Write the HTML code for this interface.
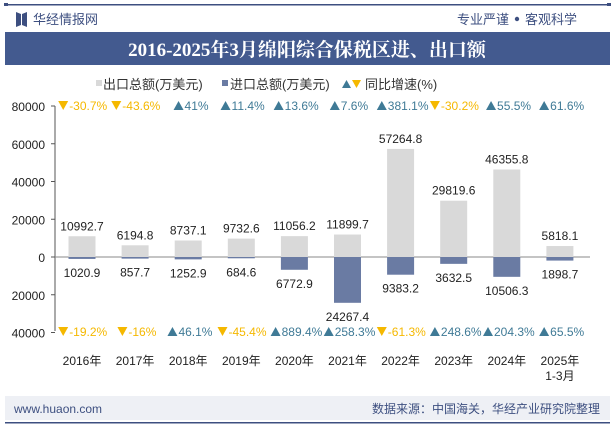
<!DOCTYPE html>
<html><head><meta charset="utf-8"><style>
body{margin:0;width:615px;height:427px;overflow:hidden;background:#fff;font-family:"Liberation Sans","Noto Sans CJK SC",sans-serif;}
svg text{font-family:"Liberation Sans","Noto Sans CJK SC",sans-serif;}
</style></head><body>
<svg id="c" width="615" height="427">
<rect x="5" y="4" width="605" height="1.5" fill="#3d4f80"/>
<rect x="4" y="3" width="4" height="3" fill="#3d4f80"/><rect x="607" y="3" width="4" height="3" fill="#3d4f80"/>
<g><path d="M16 12 L21 14 L21 25 L16 27Z M27 12 L22 14 L22 25 L27 27Z" fill="#3d4f80"/>
<text x="33" y="24" font-size="13" fill="#3d4f80">华经情报网</text></g>
<text x="509" y="24" font-size="13" fill="#3d4f80" text-anchor="end">专业严谨</text>
<circle cx="517" cy="19" r="2.2" fill="#3d4f80"/>
<text x="525" y="24" font-size="13" fill="#3d4f80">客观科学</text>
<rect x="5" y="32" width="605" height="33" fill="#435a8f"/>
<text x="307" y="56" font-size="19" font-weight="bold" fill="#fff" text-anchor="middle" style="font-family:'Liberation Serif','Noto Serif CJK SC',serif">2016-2025年3月绵阳综合保税区进、出口额</text>
<g>
<rect x="96" y="80" width="6" height="6" fill="#d9d9d9"/><text x="103" y="89" font-size="13" fill="#333">出口总额(万美元)</text>
<rect x="222" y="80" width="6" height="6" fill="#6a7ba3"/><text x="230" y="89" font-size="13" fill="#333">进口总额(万美元)</text>
<path d="M342 88 L346.5 80 L351 88Z" fill="#3f7a96"/><path d="M352 80 L361 80 L356.5 88Z" fill="#f5b800"/>
<text x="365" y="89" font-size="13" fill="#333">同比增速(%)</text></g>
<line x1="55" y1="106" x2="55" y2="331" stroke="#555"/>
<rect x="5" y="396" width="605" height="24" fill="#eef0f5"/>
<text x="14" y="413" font-size="12" fill="#3d4f80">www.huaon.com</text>
<text x="600" y="413" font-size="12" fill="#3d4f80" text-anchor="end">数据来源：中国海关，华经产业研究院整理</text>
<rect x="5" y="422" width="605" height="1.5" fill="#3d4f80"/>
<g id="g"></g>
</svg>
<script>
const categories=["2016年","2017年","2018年","2019年","2020年","2021年","2022年","2023年","2024年","2025年"];
const exportVals=[10992.7,6194.8,8737.1,9732.6,11056.2,11899.7,57264.8,29819.6,46355.8,5818.1];
const importVals=[1020.9,857.7,1252.9,684.6,6772.9,24267.4,9383.2,3632.5,10506.3,1898.7];
const exportGrowth=[-30.7,-43.6,41,11.4,13.6,7.6,381.1,-30.2,55.5,61.6];
const importGrowth=[-19.2,-16,46.1,-45.4,889.4,258.3,-61.3,248.6,204.3,65.5];
const yTicks=[80000,60000,40000,20000,0,20000,40000];
const yTickVals=[80000,60000,40000,20000,0,-20000,-40000];
const ns="http://www.w3.org/2000/svg",g=document.getElementById('g');
const y0=257,k=(257-106)/80000;
const yS=v=>y0-v*k;
const xS=i=>82+i*53.1;
function el(t,a,txt){const e=document.createElementNS(ns,t);for(const n in a)e.setAttribute(n,a[n]);if(txt!=null)e.textContent=txt;g.appendChild(e);return e;}
const ax=el('line',{x1:55,y1:y0,x2:590,y2:y0,stroke:'#888'});


yTickVals.forEach((v,i)=>{const t=el('text',{x:45,y:yS(v)+5,'font-size':12,fill:'#222','text-anchor':'end'},yTicks[i]);


el('line',{x1:51,y1:yS(v),x2:55,y2:yS(v),stroke:'#555'});});
categories.forEach((c,i)=>{const x=xS(i),w=27;
const b=el('rect',{x:x-w/2,y:yS(exportVals[i]),width:w,height:y0-yS(exportVals[i]),fill:'#d9d9d9'});


const b2=el('rect',{x:x-w/2,y:y0,width:w,height:yS(-importVals[i])-y0,fill:'#6a7ba3'});


const l1=el('text',{x:x,y:yS(exportVals[i])-6,'font-size':12,fill:'#222','text-anchor':'middle'},exportVals[i]);


const l2=el('text',{x:x,y:yS(-importVals[i])+18,'font-size':12,fill:'#222','text-anchor':'middle'},importVals[i]);


[[exportGrowth[i],110],[importGrowth[i],336]].forEach(([v,yy])=>{const up=v>=0;const col=up?'#3f7a96':'#f5b800';
const s=(v+'%');const tw=s.length*6.1+11;const sx=x-tw/2;
const tri=el('path',{d:up?`M${sx} ${yy} L${sx+5} ${yy-9} L${sx+10} ${yy}Z`:`M${sx} ${yy-9} L${sx+10} ${yy-9} L${sx+5} ${yy}Z`,fill:col});


const t=el('text',{x:sx+11,y:yy,'font-size':12,fill:col},s);

});
const xl=el('text',{x:x,y:365,'font-size':12,fill:'#222','text-anchor':'middle'},c);


if(i==categories.length-1){const s=el('text',{x:x,y:380,'font-size':12,fill:'#222','text-anchor':'middle'},'1-3月');

}
});
</script>
</body></html>
